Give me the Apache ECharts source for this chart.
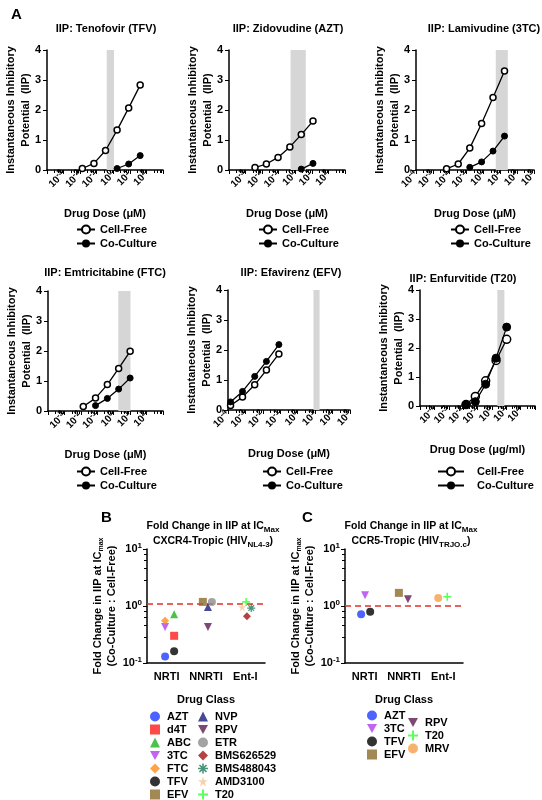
<!DOCTYPE html>
<html>
<head>
<meta charset="utf-8">
<script src="https://cdn.jsdelivr.net/npm/echarts@6/dist/echarts.min.js"></script>
<style>html,body{margin:0;padding:0;background:#fff}#c{width:542px;height:800px}</style>
</head>
<body>
<div id="c"></div>
<script>
// ---- Panel A data (dose, IIP) ----
const tfvDoseCF = [0.0135, 0.068, 0.34, 1.7, 8.5, 42];
const tfvCellFree = [0.05, 0.22, 0.65, 1.33, 2.07, 2.83];
const tfvDoseCC = [1.7, 8.5, 42];
const tfvCoCulture = [0.05, 0.2, 0.48];
const tfvBand = [0.4, 1.1];

const aztDoseCF = [0.0037, 0.018, 0.091, 0.47, 2.3, 11.7];
const aztCellFree = [0.08, 0.2, 0.42, 0.77, 1.18, 1.63];
const aztDoseCC = [2.3, 11.7];
const aztCoCulture = [0.03, 0.22];
const aztBand = [0.52, 4.3];

const tctDoseCF = [0.0065, 0.032, 0.155, 0.78, 3.7, 17.8];
const tctCellFree = [0.04, 0.2, 0.73, 1.55, 2.42, 3.3];
const tctDoseCC = [0.155, 0.78, 3.7, 17.8];
const tctCoCulture = [0.09, 0.27, 0.63, 1.13];
const tctBand = [5.4, 28];

const ftcDoseCF = [0.014, 0.078, 0.41, 2.0, 10];
const ftcCellFree = [0.15, 0.43, 0.88, 1.42, 1.99];
const ftcDoseCC = [0.078, 0.41, 2.0, 10];
const ftcCoCulture = [0.18, 0.42, 0.73, 1.1];
const ftcBand = [1.9, 10.5];

const efvDose = [0.00014, 0.00068, 0.0034, 0.016, 0.083];
const efvCellFree = [0.15, 0.43, 0.84, 1.33, 1.87];
const efvCoCulture = [0.27, 0.62, 1.12, 1.62, 2.18];
const efvBand = [8, 18];

const t20Dose = [0.016, 0.071, 0.37, 1.95, 10.7];
const t20CellFree = [0.05, 0.33, 0.87, 1.57, 2.3];
const t20CoCulture = [0.05, 0.15, 0.75, 1.65, 2.72];
const t20Band = [2.4, 7.4];

// ---- Panels B and C data ----
const drugClasses = ['NRTI', 'NNRTI', 'Ent-I'];
const bDrugs = ['AZT', 'd4T', 'ABC', '3TC', 'FTC', 'TFV', 'EFV', 'NVP', 'RPV', 'ETR', 'BMS626529', 'BMS488043', 'AMD3100', 'T20'];
const bPos = [0.46, 0.69, 0.69, 0.46, 0.46, 0.69, 1.42, 1.55, 1.55, 1.65, 2.54, 2.65, 2.42, 2.52];
const bFold = [0.13, 0.30, 0.72, 0.43, 0.55, 0.16, 1.18, 0.96, 0.43, 1.18, 0.66, 0.92, 0.95, 1.18];
const bRef = 1.08;
const cDrugs = ['AZT', '3TC', 'TFV', 'EFV', 'RPV', 'T20', 'MRV'];
const cPos = [0.41, 0.51, 0.64, 1.37, 1.60, 2.6, 2.37];
const cFold = [0.72, 1.55, 0.79, 1.7, 1.32, 1.45, 1.38];
const cRef = 1.0;

const FONT = 'Liberation Sans';
const DOWN = 'path://M0,0L10,0L5,9Z';
const PLUS = 'path://M4,0H6V4H10V6H6V10H4V6H0V4H4Z';
const AST = 'path://M4.2,0H5.8V3.1L8,0.9L9.1,2L6.9,4.2H10V5.8H6.9L9.1,8L8,9.1L5.8,6.9V10H4.2V6.9L2,9.1L0.9,8L3.1,5.8H0V4.2H3.1L0.9,2L2,0.9L4.2,3.1Z';
const drugStyle = {
    AZT: ['circle', '#1f3cff'], d4T: ['rect', '#ff1a1a'], ABC: ['triangle', '#1fb31f'],
    '3TC': [DOWN, '#b43cf0'], FTC: ['diamond', '#ff8c1a'], TFV: ['circle', '#000'],
    EFV: ['rect', '#8b6a2b'], NVP: ['triangle', '#1a1a80'], RPV: [DOWN, '#5c1a4d'],
    ETR: ['circle', '#8c8c8c'], BMS626529: ['diamond', '#a01414'], BMS488043: [AST, '#1a7a5a'],
    AMD3100: ['path://M5,0L6.2,3.8H10L6.9,6.1L8.1,10L5,7.6L1.9,10L3.1,6.1L0,3.8H3.8Z', '#f5c79a'],
    T20: [PLUS, '#33ff33'], MRV: ['circle', '#f5a04a']
};

const sup = v => '{n|10}{s|' + Math.round(Math.log10(v)) + '}';
const rich = {
    n: { fontSize: 10, fontWeight: 'bold', fontFamily: FONT, color: '#000', lineHeight: 14 },
    s: { fontSize: 8, fontWeight: 'bold', fontFamily: FONT, color: '#000', verticalAlign: 'top', lineHeight: 10 }
};

const panels = [
    { t: 'IIP: Tenofovir (TFV)', tx: 101, ty: 18, g: [47, 50, 116, 120], min: 1e-4, lg: [71, 219], u: 'μM',
      cf: [tfvDoseCF, tfvCellFree], cc: [tfvDoseCC, tfvCoCulture], band: tfvBand },
    { t: 'IIP: Zidovudine (AZT)', tx: 283, ty: 18, g: [229, 50, 116, 120], min: 1e-4, lg: [253, 219], u: 'μM',
      cf: [aztDoseCF, aztCellFree], cc: [aztDoseCC, aztCoCulture], band: aztBand },
    { t: 'IIP: Lamivudine (3TC)', tx: 479, ty: 18, g: [416, 50, 118, 120], min: 1e-4, lg: [445, 219], u: 'μM',
      cf: [tctDoseCF, tctCellFree], cc: [tctDoseCC, tctCoCulture], band: tctBand },
    { t: 'IIP: Emtricitabine (FTC)', tx: 100, ty: 262, g: [48, 291, 115, 120], min: 1e-4, lg: [71, 461], u: 'μM',
      cf: [ftcDoseCF, ftcCellFree], cc: [ftcDoseCC, ftcCoCulture], band: ftcBand },
    { t: 'IIP: Efavirenz (EFV)', tx: 286, ty: 262, g: [228, 290, 122, 120], min: 1e-4, lg: [257, 461], u: 'μM',
      cf: [efvDose, efvCellFree], cc: [efvDose, efvCoCulture], band: efvBand },
    { t: 'IIP: Enfurvitide (T20)', tx: 458, ty: 268, g: [420, 290, 115, 116], min: 1e-5, lg: [432, 461], u: 'μg/ml', big: true,
      cf: [t20Dose, t20CellFree], cc: [t20Dose, t20CoCulture], band: t20Band }
];

const axisLine = { lineStyle: { color: '#000', width: 1.5 } };
const labelFont = { color: '#000', fontWeight: 'bold', fontFamily: FONT };
const grid = [], xAxis = [], yAxis = [], series = [], title = [], legend = [];

panels.forEach((p, i) => {
    const [l, t, w, h] = p.g;
    grid.push({ left: l, top: t, width: w, height: h });
    title.push({ text: p.t, left: p.tx, top: p.ty, textAlign: 'center',
        textStyle: { ...labelFont, fontSize: 11 } });
    xAxis.push({
        type: 'log', logBase: 10, gridIndex: i, min: p.min, max: 1e3,
        axisLine, axisTick: { length: 4, lineStyle: { color: '#000' } },
        minorTick: { show: true, splitNumber: 5, length: 3, lineStyle: { color: '#000' } },
        splitLine: { show: false },
        axisLabel: { ...labelFont, interval: 0, rotate: 45, margin: 3, formatter: sup, rich },
        name: 'Drug Dose (' + p.u + ')', nameLocation: 'middle', nameGap: 38, nameMoveOverlap: false,
        nameTextStyle: { ...labelFont, fontSize: 11 }
    });
    yAxis.push({
        type: 'value', gridIndex: i, min: 0, max: 4, interval: 1,
        axisLine: { show: true, ...axisLine }, axisTick: { show: true, length: 4, lineStyle: { color: '#000' } },
        splitLine: { show: false },
        axisLabel: { ...labelFont, fontSize: 11, margin: 6 },
        name: 'Instantaneous Inhibitory\nPotential  (IIP)', nameLocation: 'middle', nameGap: 14, nameMoveOverlap: false,
        nameTextStyle: { ...labelFont, fontSize: 11, lineHeight: 15 }
    });
    const sz = p.big ? 8 : 6;
    series.push({
        name: 'Cell-Free', type: 'line', xAxisIndex: i, yAxisIndex: i,
        data: p.cf[0].map((d, k) => [d, p.cf[1][k]]),
        symbol: 'circle', symbolSize: sz, itemStyle: { color: '#fff', borderColor: '#000', borderWidth: 1.5 },
        lineStyle: { color: '#000', width: 1.3 }, z: 3,
        markArea: { silent: true, itemStyle: { color: '#d6d6d6' }, data: [[{ xAxis: p.band[0] }, { xAxis: p.band[1] }]] }
    });
    series.push({
        name: 'Co-Culture', type: 'line', xAxisIndex: i, yAxisIndex: i,
        data: p.cc[0].map((d, k) => [d, p.cc[1][k]]),
        symbol: 'circle', symbolSize: sz, itemStyle: { color: '#000', borderColor: '#000' },
        lineStyle: { color: '#000', width: 1.3 }, z: 4
    });
    legend.push({
        data: ['Cell-Free', 'Co-Culture'], orient: 'vertical', left: p.lg[0], top: p.lg[1],
        itemGap: 3, itemWidth: p.big ? 26 : 18, itemHeight: 10, selectedMode: false,
        textStyle: { ...labelFont, fontSize: 11, padding: [0, 0, 0, p.big ? 8 : 0] }
    });
});

function foldPanel(names, pos, fold, ref, g, tTop, tx, sub, lg) {
    const gi = grid.length;
    grid.push({ left: g[0], top: g[1], width: g[2], height: g[3] });
    title.push({
        text: 'Fold Change in IIP at IC{b|Max}\n' + sub, left: tx, top: tTop, textAlign: 'center',
        textStyle: { ...labelFont, fontSize: 10.5, lineHeight: 15,
            rich: { b: { ...labelFont, fontSize: 8, verticalAlign: 'bottom', padding: [6, 0, 0, 0] } } }
    });
    xAxis.push({
        type: 'category', gridIndex: gi, data: drugClasses,
        axisLine, axisTick: { alignWithLabel: true, length: 4, lineStyle: { color: '#000' } },
        axisLabel: { ...labelFont, fontSize: 11, margin: 8, interval: 0 },
        name: 'Drug Class', nameLocation: 'middle', nameGap: 31,
        nameTextStyle: { ...labelFont, fontSize: 11 }
    });
    xAxis.push({ type: 'value', gridIndex: gi, min: 0, max: 3, show: false });
    yAxis.push({
        type: 'log', logBase: 10, gridIndex: gi, min: 0.1, max: 10,
        axisLine: { show: true, ...axisLine }, axisTick: { show: true, length: 4, lineStyle: { color: '#000' } },
        minorTick: { show: true, splitNumber: 5, length: 3, lineStyle: { color: '#000' } },
        splitLine: { show: false },
        axisLabel: { ...labelFont, margin: 5, formatter: sup, rich: { ...rich, n: { ...rich.n, fontSize: 11 } } },
        name: 'Fold Change in IIP at IC{b|max}\n(Co-Culture : Cell-Free)', nameLocation: 'middle', nameGap: 28,
        nameTextStyle: { ...labelFont, fontSize: 11, lineHeight: 14,
            rich: { b: { ...labelFont, fontSize: 7, verticalAlign: 'bottom', padding: [5, 0, 0, 0] } } }
    });
    const xi = xAxis.length - 1;
    names.forEach((n, k) => {
        const [sym, col] = drugStyle[n];
        series.push({
            name: n, type: 'scatter', xAxisIndex: xi, yAxisIndex: gi,
            data: [[pos[k], fold[k]]], symbol: sym, symbolSize: 8, itemStyle: { color: col }, z: 5
        });
    });
    series.push({
        type: 'line', xAxisIndex: xi, yAxisIndex: gi, data: [], silent: true,
        markLine: { symbol: 'none', silent: true, label: { show: false },
            lineStyle: { color: '#e0302a', type: [6, 4], width: 1.6 }, data: [{ yAxis: ref }] }
    });
    // short legend blocks so none wraps at the page bottom
    lg.forEach(([names2, left, top]) => legend.push({
        data: names2, orient: 'vertical', left, top, padding: 0, itemGap: 2, itemWidth: 10, itemHeight: 10,
        selectedMode: false, textStyle: { ...labelFont, fontSize: 11, lineHeight: 11, padding: [0, 0, 0, 2] }
    }));
}

foldPanel(bDrugs, bPos, bFold, bRef, [147, 549, 118, 114], 514, 208, 'CXCR4-Tropic (HIV{b|NL4-3})',
    [[bDrugs.slice(0, 4), 150, 711], [bDrugs.slice(4, 7), 150, 763],
     [bDrugs.slice(7, 11), 198, 711], [bDrugs.slice(11), 198, 763]]);
foldPanel(cDrugs, cPos, cFold, cRef, [345, 549, 118, 114], 514, 406, 'CCR5-Tropic (HIV{b|TRJO.c})',
    [[cDrugs.slice(0, 4), 367, 710], [cDrugs.slice(4), 408, 717]]);

title.push({ text: 'A', left: 6, top: 2, textStyle: { ...labelFont, fontSize: 15 } });
title.push({ text: 'B', left: 96, top: 505, textStyle: { ...labelFont, fontSize: 15 } });
title.push({ text: 'C', left: 297, top: 505, textStyle: { ...labelFont, fontSize: 15 } });

const chart = echarts.init(document.getElementById('c'), null, { renderer: 'canvas' });
chart.setOption({ animation: false, backgroundColor: '#fff', title, grid, xAxis, yAxis, series, legend });
</script>
</body>
</html>
